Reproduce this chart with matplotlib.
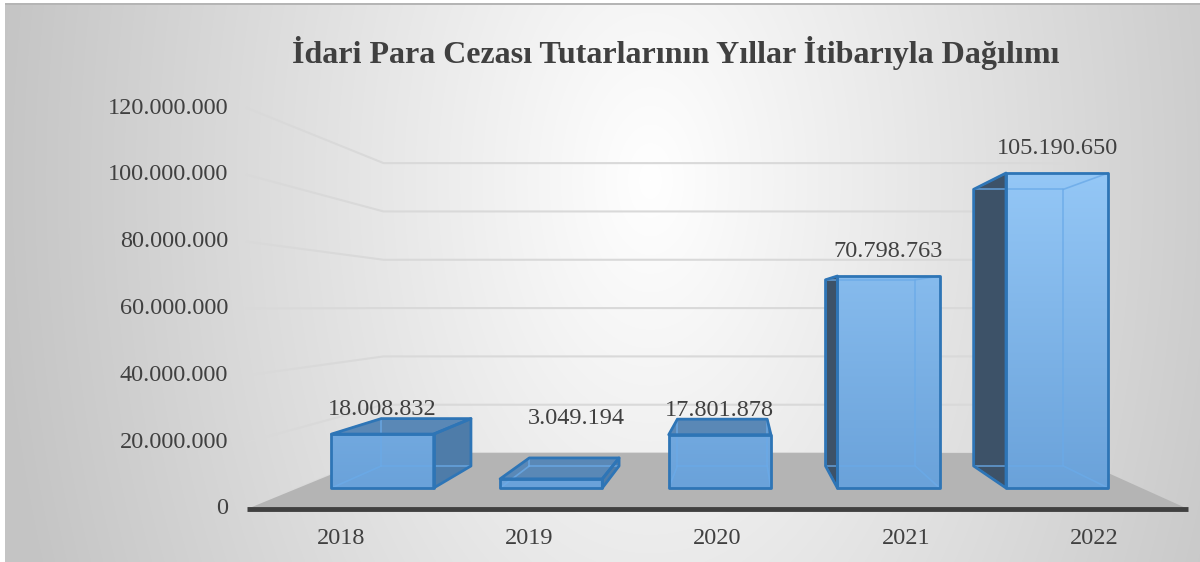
import numpy as np
import matplotlib.pyplot as plt
from matplotlib.patches import Polygon

plt.rcParams['font.family'] = ['Liberation Serif', 'DejaVu Serif']

years = ['2018', '2019', '2020', '2021', '2022']
amounts = [18008832, 3049194, 17801878, 70798763, 105190650]
y_ticks = [0, 20000000, 40000000, 60000000, 80000000, 100000000, 120000000]
title = 'İdari Para Cezası Tutarlarının Yıllar İtibarıyla Dağılımı'

# 2019 label was dragged by hand in the original chart
label_shift = {1: (25, -36)}

# one point perspective: front plane in pixels, vanishing point, depth factors
W, H = 1200, 562
VX, VY = 740, 307
X0, X1 = 247, 1188
Y0, YTOP = 509, 108
F_WALL = 0.723
F_FRONT = 0.896
F_BACK = 0.787
HALF = 0.303
ncat = len(years)
ymax = y_ticks[-1]

TXT = '#404040'
EDGE = '#2E75B6'


def proj(c, v, f):
    xf = X0 + (X1 - X0) * c / ncat
    yf = Y0 - (Y0 - YTOP) * v / ymax
    return (VX + (xf - VX) * f, VY + (yf - VY) * f)


def fmt(v):
    return f'{v:,}'.replace(',', '.')


fig = plt.figure(figsize=(12, 5.62), dpi=100)
ax = fig.add_axes([0, 0, 1, 1])

# background gradient
gx, gy = np.meshgrid(np.arange(W), np.arange(H))
d = np.sqrt(((gx - 650) / 660) ** 2 + ((gy - 180) / 1100) ** 2)
g = 1 - np.clip(d, 0, 1) * (1 - 196 / 255)
bg = np.dstack([g, g, g])
bg[:3, :] = 1
bg[:, :5] = 1
bg[3:5, 5:] = 0.71
ax.imshow(bg, extent=(0, W, H, 0), aspect='auto', zorder=0)

# walls
for t in y_ticks:
    xa, ya = proj(0, t, 1)
    xb, yb = proj(0, t, F_WALL)
    xc, yc = proj(ncat, t, F_WALL)
    ax.plot([xa, xb, xc], [ya, yb, yc], color='#D9D9D9', lw=1.5, zorder=1)
    ax.text(xa - 19, ya, fmt(t), ha='right', va='center', fontsize=17.5, color=TXT)

floor = [proj(0, 0, 1), proj(ncat, 0, 1), proj(ncat, 0, F_WALL), proj(0, 0, F_WALL)]
ax.add_patch(Polygon(floor, closed=True, fc='#B4B4B4', ec='none', zorder=2))
xa, ya = proj(0, 0, 1)
xb, yb = proj(ncat, 0, 1)
ax.plot([xa, xb], [ya, yb], color=TXT, lw=3.5, solid_capstyle='butt', zorder=3)

for i, yr in enumerate(years):
    x, y = proj(i + 0.5, 0, 1)
    ax.text(x, y + 30, yr, ha='center', va='center', fontsize=17.5, color=TXT)

# front face gradient range
g_top = proj(0, max(amounts), F_FRONT)[1]
g_bot = proj(0, 0, F_FRONT)[1]
c_top = np.array([0x94, 0xC7, 0xF6]) / 255
c_bot = np.array([0x6A, 0xA2, 0xDA]) / 255

for i, v in enumerate(amounts):
    c = i + 0.5
    l, r = c - HALF, c + HALF
    fl0, fr0 = proj(l, 0, F_FRONT), proj(r, 0, F_FRONT)
    fl1, fr1 = proj(l, v, F_FRONT), proj(r, v, F_FRONT)
    bl0, br0 = proj(l, 0, F_BACK), proj(r, 0, F_BACK)
    bl1, br1 = proj(l, v, F_BACK), proj(r, v, F_BACK)

    faces = []
    if bl0[0] < fl0[0]:
        faces.append(([fl0, fl1, bl1, bl0], '#3D5268'))
    if br0[0] > fr0[0]:
        faces.append(([fr0, fr1, br1, br0], '#4E7CA9'))
    if bl1[1] < fl1[1]:
        faces.append(([fl1, fr1, br1, bl1], '#5A88B6'))
    for pts, col in faces:
        ax.add_patch(Polygon(pts, closed=True, fc=col, ec='none', zorder=4))

    front = Polygon([fl0, fr0, fr1, fl1], closed=True, fc='none', ec='none', zorder=5)
    ax.add_patch(front)
    ys = np.linspace(fl1[1], fl0[1], 100)
    tt = ((ys - g_top) / (g_bot - g_top))[:, None]
    img = (c_top * (1 - tt) + c_bot * tt)[:, None, :]
    im = ax.imshow(img, extent=(fl0[0], fr0[0], fl0[1], fl1[1]), aspect='auto',
                   interpolation='bilinear', zorder=5)
    im.set_clip_path(front)

    # edges seen through the glass
    hidden = [[bl0, br0, br1, bl1, bl0], [fl0, bl0], [fr0, br0], [fr1, br1], [fl1, bl1]]
    for seg in hidden:
        ax.plot([p[0] for p in seg], [p[1] for p in seg], color='#6AAAE8', lw=1.2,
                alpha=0.8, zorder=6)

    for pts, col in faces + [([fl0, fr0, fr1, fl1], None)]:
        ax.add_patch(Polygon(pts, closed=True, fc='none', ec=EDGE, lw=2,
                             joinstyle='round', zorder=7))

    dx, dy = label_shift.get(i, (0, 0))
    ax.text((fl1[0] + fr1[0]) / 2 + dx, fl1[1] - 24.5 + dy, fmt(v), ha='center',
            va='center', fontsize=17.5, color=TXT, zorder=8)

ax.text(676, 63, title, ha='center', va='baseline', fontsize=23,
        fontweight='bold', color=TXT)

ax.set_xlim(0, W)
ax.set_ylim(H, 0)
ax.axis('off')
fig.savefig('out.png', dpi=100)
